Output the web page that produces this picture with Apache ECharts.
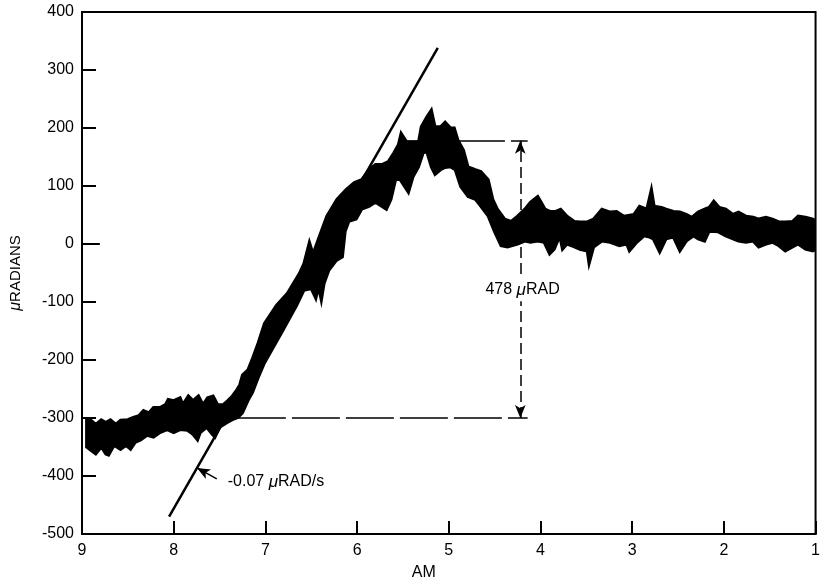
<!DOCTYPE html>
<html>
<head>
    <meta charset="utf-8">
    <title>μRADIANS vs AM</title>
    <script src="https://cdn.jsdelivr.net/npm/echarts@6/dist/echarts.min.js"></script>
    <style>
        html, body { margin: 0; padding: 0; background: #fff; }
        #main { width: 823px; height: 586px; }
    </style>
</head>
<body>
<div id="main"></div>
<script>
    var upperEdge = [
        [8.95, -303], [8.90, -304], [8.85, -311], [8.79, -303], [8.74, -308], [8.69, -303],
        [8.63, -311], [8.58, -304], [8.50, -303], [8.44, -299], [8.38, -296], [8.33, -287],
        [8.27, -291], [8.22, -282], [8.15, -282], [8.09, -277], [8.06, -268], [8.00, -270],
        [7.93, -265], [7.90, -277], [7.84, -262], [7.79, -270], [7.73, -262], [7.68, -277],
        [7.63, -265], [7.57, -262], [7.52, -277], [7.46, -277], [7.41, -270], [7.36, -262],
        [7.31, -251], [7.28, -243], [7.25, -226], [7.19, -217], [7.14, -197], [7.08, -171],
        [7.01, -137], [6.88, -106], [6.76, -85], [6.63, -51], [6.58, -34], [6.52, 3],
        [6.48, -17], [6.41, 14], [6.33, 48], [6.22, 77], [6.12, 94], [6.03, 106],
        [5.95, 111], [5.87, 128], [5.80, 137], [5.73, 137], [5.66, 142], [5.60, 157],
        [5.55, 171], [5.52, 191], [5.46, 176], [5.39, 176], [5.33, 176], [5.30, 202],
        [5.24, 219], [5.19, 231], [5.15, 202], [5.09, 202], [5.04, 210], [4.98, 200],
        [4.94, 200], [4.90, 179], [4.84, 162], [4.79, 133], [4.71, 128], [4.65, 125],
        [4.57, 111], [4.52, 77], [4.47, 60], [4.39, 43], [4.32, 39], [4.25, 48],
        [4.17, 60], [4.11, 72], [4.03, 82], [4.00, 74], [3.95, 60], [3.89, 56],
        [3.84, 56], [3.78, 60], [3.71, 48], [3.63, 39], [3.57, 38], [3.49, 38],
        [3.42, 43], [3.33, 60], [3.24, 55], [3.17, 56], [3.09, 48], [2.98, 51],
        [2.92, 65], [2.84, 60], [2.79, 94], [2.76, 65], [2.68, 63], [2.63, 60],
        [2.55, 56], [2.48, 55], [2.41, 51], [2.35, 46], [2.28, 55], [2.21, 60],
        [2.16, 63], [2.11, 74], [2.05, 63], [1.98, 60], [1.90, 51], [1.84, 55],
        [1.76, 48], [1.68, 46], [1.62, 43], [1.54, 46], [1.47, 43], [1.40, 38],
        [1.33, 38], [1.25, 39], [1.19, 48], [1.11, 46], [1.03, 43], [1.00, 39]
    ];
    // lower edge of the band
    var lowerEdge = [
        [8.95, -350], [8.90, -356], [8.85, -362], [8.79, -350], [8.74, -362], [8.71, -364],
        [8.65, -347], [8.58, -354], [8.52, -347], [8.47, -354], [8.42, -342], [8.36, -338],
        [8.29, -330], [8.22, -333], [8.15, -325], [8.07, -320], [8.00, -325], [7.93, -320],
        [7.85, -321], [7.79, -328], [7.74, -338], [7.71, -325], [7.64, -316], [7.58, -328],
        [7.55, -333], [7.50, -316], [7.42, -308], [7.36, -303], [7.30, -299], [7.25, -291],
        [7.19, -270], [7.14, -256], [7.08, -231], [7.01, -205], [6.93, -183], [6.81, -149],
        [6.66, -106], [6.58, -80], [6.50, -77], [6.45, -94], [6.42, -74], [6.39, -97],
        [6.36, -68], [6.31, -46], [6.23, -29], [6.16, -22], [6.13, 22], [6.09, 39],
        [6.01, 43], [5.95, 60], [5.87, 65], [5.80, 72], [5.68, 60], [5.63, 77],
        [5.58, 111], [5.53, 111], [5.44, 89], [5.39, 116], [5.33, 133], [5.28, 157],
        [5.24, 159], [5.19, 133], [5.15, 120], [5.09, 128], [5.04, 132], [4.98, 133],
        [4.93, 128], [4.87, 99], [4.79, 82], [4.71, 77], [4.65, 65], [4.57, 48],
        [4.50, 21], [4.43, -3], [4.36, -5], [4.25, 0], [4.17, 5], [4.11, 3],
        [4.03, 5], [3.96, 3], [3.90, -17], [3.85, -9], [3.79, 14], [3.76, -9],
        [3.71, 0], [3.63, -5], [3.57, -9], [3.49, -12], [3.47, -34], [3.42, -5],
        [3.33, 5], [3.24, 3], [3.14, -3], [3.06, 0], [3.03, -12], [2.95, 3],
        [2.87, 14], [2.81, 12], [2.77, 9], [2.70, -14], [2.63, 9], [2.55, 12],
        [2.48, -12], [2.41, 5], [2.33, 14], [2.28, 9], [2.21, 5], [2.16, 22],
        [2.06, 21], [1.98, 14], [1.90, 9], [1.84, 5], [1.76, 3], [1.68, 5],
        [1.62, -5], [1.54, 0], [1.47, 3], [1.40, -3], [1.33, -12], [1.25, -5],
        [1.19, 0], [1.11, -9], [1.03, -12], [1.00, -9]
    ];
    // fitted rate line
    var slopeLine = [[8.05, -470], [5.12, 338]];
    // guide lines and arrows
    var lowGuide = [[7.30, -300], [4.14, -300]];
    var highGuide = [[5.50, 178], [4.14, 178]];
    var spanArrow = [[4.22, -300], [4.22, 178]];
    var rateArrow = [[7.53, -405], [7.745, -386]];
    var zeroTick = [[9, 0], [8.805, 0]];
    // annotation texts
    var noteText = ['478 {m|μ}RAD', '-0.07 {m|μ}RAD/s'];
    var notePos = [[4.195, -79], [7.41, -410]];

    var font = 'Liberation Sans, Arial, Helvetica, sans-serif';
    var chart = echarts.init(document.getElementById('main'));

    var option = {
        backgroundColor: '#fff',
        animation: false,
        grid: {
            left: 81, right: 3, top: 12, bottom: 48,
            show: true, borderColor: '#000', borderWidth: 2
        },
        xAxis: {
            type: 'value',
            min: 1, max: 9, interval: 1,
            inverse: true,
            name: 'AM',
            nameLocation: 'middle',
            nameGap: 31,
            nameTextStyle: { color: '#000', fontSize: 16, fontFamily: font, padding: [0, 50, 0, 0] },
            axisLine: { onZero: false, lineStyle: { color: '#000', width: 2 } },
            axisTick: { inside: true, length: 13, lineStyle: { color: '#000', width: 2 } },
            axisLabel: { color: '#000', fontSize: 16, fontFamily: font, margin: 9 },
            splitLine: { show: false }
        },
        yAxis: {
            type: 'value',
            min: -500, max: 400, interval: 100,
            name: '{m|μ}RADIANS',
            nameLocation: 'middle',
            nameGap: 58,
            nameTextStyle: {
                color: '#000', fontSize: 15, fontFamily: font,
                rich: { m: { fontStyle: 'italic', fontSize: 16, fontFamily: font, color: '#000' } }
            },
            axisLine: { onZero: false, lineStyle: { color: '#000', width: 2 } },
            axisTick: { inside: true, length: 14, lineStyle: { color: '#000', width: 2 } },
            axisLabel: { color: '#000', fontSize: 16, fontFamily: font, margin: 8 },
            splitLine: { show: false }
        },
        series: [
            {
                // the noisy record drawn as a filled band between its edges
                type: 'custom',
                clip: true,
                silent: true,
                data: [upperEdge[0]],
                renderItem: function (params, api) {
                    var pts = upperEdge.concat(lowerEdge.slice().reverse()).map(function (p) {
                        return api.coord(p);
                    });
                    return {
                        type: 'polygon',
                        shape: { points: pts },
                        style: { fill: '#000', stroke: '#000', lineWidth: 3, lineJoin: 'miter' }
                    };
                }
            },
            {
                type: 'line',
                data: slopeLine,
                symbol: 'none',
                silent: true,
                lineStyle: { color: '#000', width: 2.5 },
                markLine: {
                    silent: true,
                    animation: false,
                    label: { show: false },
                    symbol: 'none',
                    lineStyle: { color: '#000', width: 1.5, type: [48, 6] },
                    data: [
                        [{ coord: lowGuide[0] }, { coord: lowGuide[1] }],
                        [{ coord: highGuide[0] }, { coord: highGuide[1] }],
                        [
                            { coord: spanArrow[0], symbol: 'arrow', symbolSize: [8, 13] },
                            { coord: spanArrow[1], symbol: 'arrow', symbolSize: [8, 13], lineStyle: { type: [11, 5], width: 1.5, color: '#000' } }
                        ],
                        [
                            { coord: rateArrow[0], symbol: 'none' },
                            { coord: rateArrow[1], symbol: 'arrow', symbolSize: [8, 13], lineStyle: { type: 'solid', width: 1.5, color: '#000' } }
                        ]
                    ]
                }
            },
            {
                type: 'line',
                data: zeroTick,
                symbol: 'none',
                silent: true,
                lineStyle: { color: '#000', width: 2 }
            },
            {
                type: 'scatter',
                symbolSize: 0,
                silent: true,
                itemStyle: { opacity: 1 },
                data: notePos.map(function (p, i) { return { value: p, text: noteText[i] }; }),
                label: {
                    show: true,
                    color: '#000',
                    opacity: 1,
                    fontSize: 16,
                    fontFamily: font,
                    formatter: function (p) { return p.data.text; },
                    rich: { m: { fontStyle: 'italic', fontSize: 17, fontFamily: font, color: '#000' } }
                },
                z: 5
            }
        ]
    };
    // placement of each note: first centred on the arrow over a white box, second left-aligned
    option.series[3].data[0].label = {
        position: 'inside', align: 'center', verticalAlign: 'middle', color: '#000', opacity: 1,
        backgroundColor: '#fff', padding: [3, 2]
    };
    option.series[3].data[1].label = { position: 'inside', align: 'left', verticalAlign: 'middle', color: '#000', opacity: 1 };
    chart.setOption(option);
</script>
</body>
</html>
